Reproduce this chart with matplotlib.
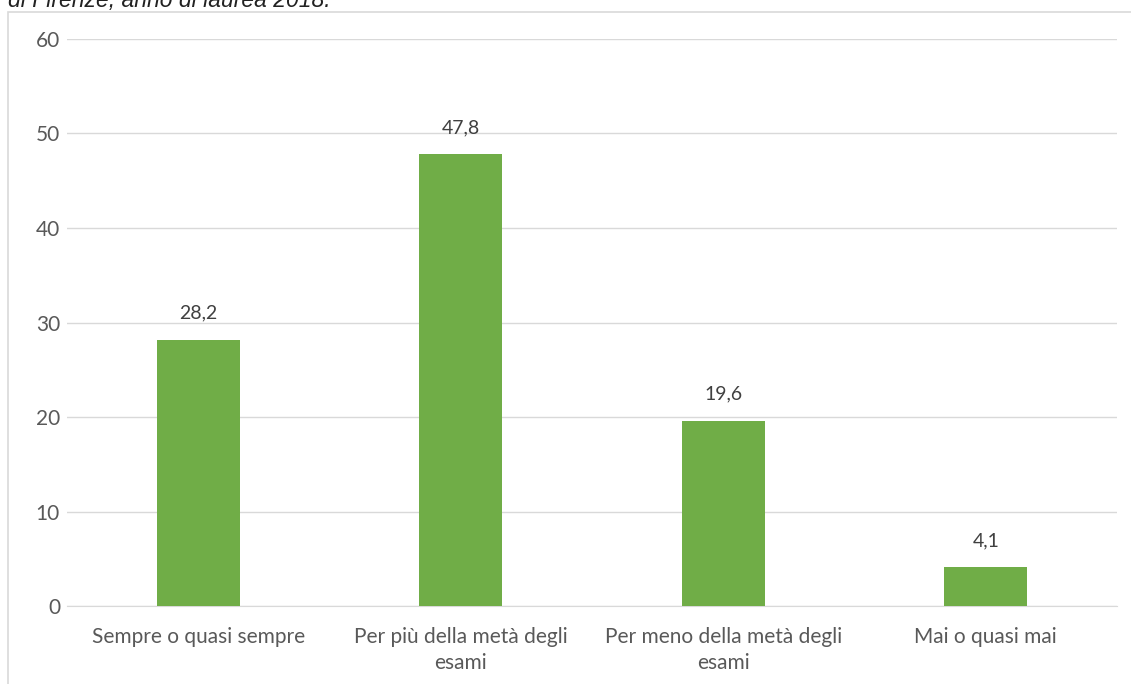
import matplotlib.pyplot as plt
from matplotlib.patches import Rectangle

categories = ['Sempre o quasi sempre', 'Per più della metà degli\nesami',
              'Per meno della metà degli\nesami', 'Mai o quasi mai']
values = [28.2, 47.8, 19.6, 4.1]
value_labels = ['28,2', '47,8', '19,6', '4,1']

plt.rcParams['font.family'] = ['Lato', 'DejaVu Sans']

fig = plt.figure(figsize=(11.31, 6.84), dpi=100)
ax = fig.add_axes([0.0592, 0.114, 0.9284, 0.829])

# outer chart border
fig.patches.append(Rectangle((8 / 1131, -0.01), 1.0, 0.9825 + 0.01,
                             transform=fig.transFigure, fill=False,
                             edgecolor='#D9D9D9', linewidth=1.2))

# cut-off title from the original document
fig.text(8 / 1131, 1 - 7 / 684, 'di Firenze, anno di laurea 2018.',
         fontsize=16.5, style='italic', family='Liberation Sans',
         color='#222222', va='baseline', ha='left')

x = range(len(categories))
bars = ax.bar(x, values, width=0.316, color='#70AD47', zorder=3)
for b, lab in zip(bars, value_labels):
    ax.text(b.get_x() + b.get_width() / 2, b.get_height() + 1.9, lab,
            ha='center', va='bottom', fontsize=14, color='#404040')

ax.set_xlim(-0.5, 3.5)
ax.set_ylim(0, 60)
ax.set_yticks(range(0, 61, 10))
ax.grid(axis='y', color='#D9D9D9', linewidth=1, zorder=0)
ax.set_xticks(list(x))
ax.set_xticklabels(categories, fontsize=15, color='#595959', linespacing=1.4)
ax.tick_params(axis='y', labelsize=15, labelcolor='#595959', length=0, pad=5)
ax.tick_params(axis='x', length=0, pad=15)
for s in ['top', 'right', 'left']:
    ax.spines[s].set_visible(False)
ax.spines['bottom'].set_color('#D9D9D9')

fig.savefig('out.png', dpi=100)
